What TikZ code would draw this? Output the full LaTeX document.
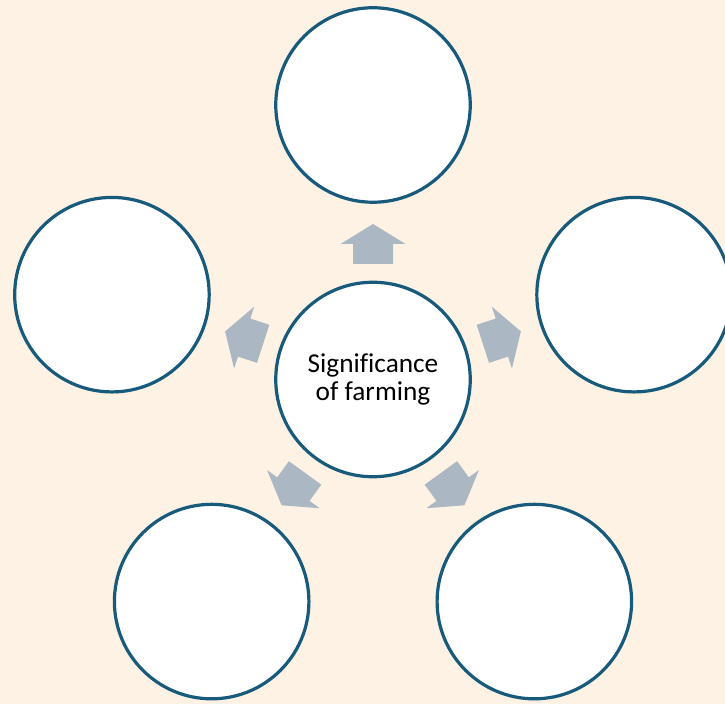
\documentclass[tikz,border=0pt]{standalone}
\usepackage{fontspec}
\setmainfont[Ligatures=NoCommon]{Carlito}
\usetikzlibrary{calc}
\definecolor{paper}{HTML}{FEF2E4}
\definecolor{ring}{HTML}{175A7B}
\definecolor{pointer}{HTML}{ABB7C3}
\begin{document}
\begin{tikzpicture}[x=1pt,y=1pt,
  bubble/.style={circle,draw=ring,line width=3.2pt,fill=white,
    minimum size=194.5pt,inner sep=0pt,outer sep=0pt},
  hub/.style={bubble,align=center,font=\fontsize{27.3}{28.5}\selectfont},
  blockarrow/.style={fill=pointer}]
% page and background
\fill[paper] (0,0) rectangle (725,704);
\useasboundingbox (0,0) rectangle (725,704);
\clip (0,0) rectangle (725,704);
\coordinate (c) at (373,324.5);
% central idea
\node[hub] (hub) at (c) {Significance\\of farming};
% surrounding ideas on a pentagon
\node[bubble] (top)   at ($(c)+(90:274.5)$)  {};
\node[bubble] (left)  at ($(c)+(162:274.5)$) {};
\node[bubble] (bleft) at ($(c)+(234:274.5)$) {};
\node[bubble] (bright)at ($(c)+(306:274.5)$) {};
\node[bubble] (right) at ($(c)+(18:274.5)$)  {};
% block arrows pointing outwards from the hub
\foreach \a in {90,162,234,306,18}{
  \fill[blockarrow,shift={(c)},rotate=\a]
    (115.5,-20) -- (135.5,-20) -- (135.5,-32.5) -- (155.5,0)
    -- (135.5,32.5) -- (135.5,20) -- (115.5,20) -- cycle;
}
\end{tikzpicture}
\end{document}
